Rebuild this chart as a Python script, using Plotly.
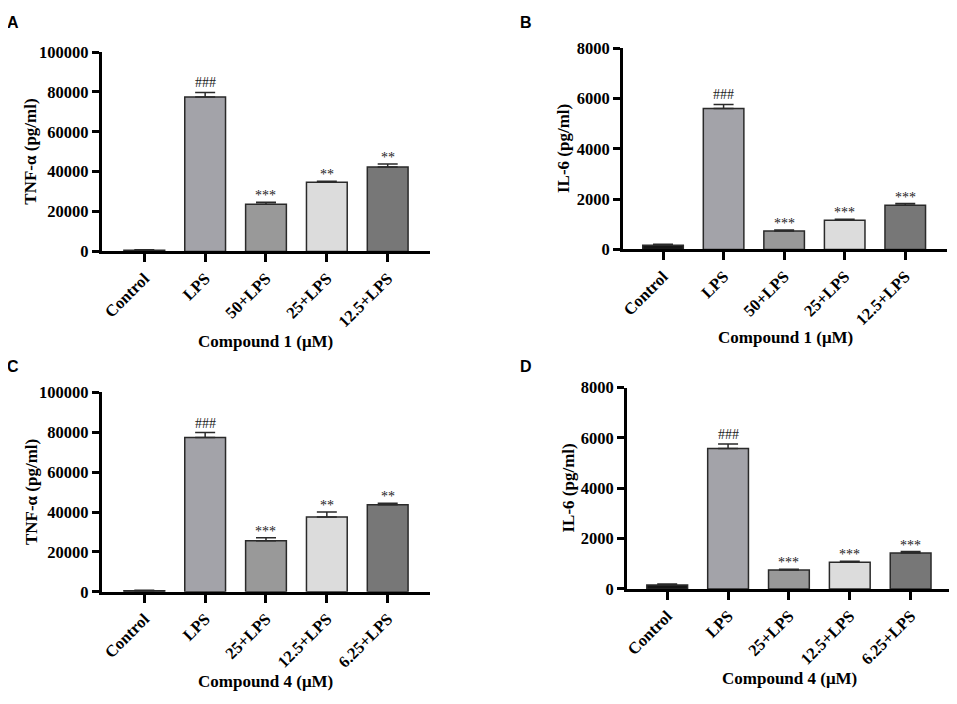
import plotly.graph_objects as go

# page body has an 8px margin: figure is drawn so that it fills the 957x704 view from (8, 8)
OFF = 8
W, H = 957 - OFF, 704 - OFF


def fx(px):
    return (px - OFF) / W


def fy(py):
    return 1 - (py - OFF) / H


# ---- data ----
cats_1 = ["Control", "LPS", "50+LPS", "25+LPS", "12.5+LPS"]
cats_4 = ["Control", "LPS", "25+LPS", "12.5+LPS", "6.25+LPS"]

tnf_c1 = [600, 77400, 23600, 34700, 42400]
tnf_c1_err = [200, 2300, 1100, 500, 1500]
tnf_c1_sig = ["", "###", "***", "**", "**"]

il6_c1 = [165, 5600, 737, 1163, 1757]
il6_c1_err = [40, 165, 38, 40, 65]
il6_c1_sig = ["", "###", "***", "***", "***"]

tnf_c4 = [600, 77400, 25650, 37500, 43700]
tnf_c4_err = [200, 2500, 1450, 2600, 800]
tnf_c4_sig = ["", "###", "***", "**", "**"]

il6_c4 = [155, 5580, 748, 1058, 1432]
il6_c4_err = [40, 180, 39, 39, 52]
il6_c4_sig = ["", "###", "***", "***", "***"]

bar_colors = ["#151515", "#A3A3A9", "#999999", "#DCDCDC", "#777777"]

FONT = "Liberation Serif"

# panel pixel boxes (screen px): (x_left, x_right, y_top, y_bottom)
panels = [
    dict(cats=cats_1, vals=tnf_c1, err=tnf_c1_err, sig=tnf_c1_sig, ymax=100000, dtick=20000,
         ytitle="TNF-α (pg/ml)", xtitle="Compound 1 (μM)", letter="A",
         box=(99, 428, 44, 249), xr=(-0.70, 4.69), ytx=28, xty=342, lx=10, ly=14),
    dict(cats=cats_1, vals=il6_c1, err=il6_c1_err, sig=il6_c1_sig, ymax=8000, dtick=2000,
         ytitle="IL-6 (pg/ml)", xtitle="Compound 1 (μM)", letter="B",
         box=(622, 947, 40, 247), xr=(-0.66, 4.69), ytx=563, xty=338, lx=525, ly=14),
    dict(cats=cats_4, vals=tnf_c4, err=tnf_c4_err, sig=tnf_c4_sig, ymax=100000, dtick=20000,
         ytitle="TNF-α (pg/ml)", xtitle="Compound 4 (μM)", letter="C",
         box=(99, 428, 394, 599), xr=(-0.70, 4.69), ytx=28, xty=691, lx=10, ly=367),
    dict(cats=cats_4, vals=il6_c4, err=il6_c4_err, sig=il6_c4_sig, ymax=8000, dtick=2000,
         ytitle="IL-6 (pg/ml)", xtitle="Compound 4 (μM)", letter="D",
         box=(626, 952, 389, 596), xr=(-0.66, 4.68), ytx=567, xty=688, lx=525, ly=367),
]

fig = go.Figure()
annotations = []
layout_axes = {}

for i, p in enumerate(panels, start=1):
    xa = "x" if i == 1 else f"x{i}"
    ya = "y" if i == 1 else f"y{i}"
    xl, xr_px, yt, yb = p["box"]
    idx = list(range(len(p["cats"])))
    fig.add_trace(go.Bar(
        x=idx, y=p["vals"], xaxis=xa, yaxis=ya,
        width=0.67,
        marker=dict(color=bar_colors, line=dict(color="#2a2a2a", width=1.5)),
        error_y=dict(type="data", symmetric=False, array=p["err"],
                     arrayminus=[0] * len(p["err"]),
                     color="#2a2a2a", thickness=1.5, width=10),
        showlegend=False, hoverinfo="skip",
    ))
    for j, s in enumerate(p["sig"]):
        if s:
            annotations.append(dict(
                x=j, y=p["vals"][j] + p["err"][j], xref=xa, yref=ya,
                text=s, showarrow=False, yanchor="bottom", xanchor="center",
                yshift=(0 if s.startswith("#") else -3),
                font=dict(family=FONT, size=14, color="#222222"),
            ))
    axkey_x = "xaxis" if i == 1 else f"xaxis{i}"
    axkey_y = "yaxis" if i == 1 else f"yaxis{i}"
    layout_axes[axkey_x] = dict(
        domain=[fx(xl), min(1.0, fx(xr_px))], anchor=ya, range=list(p["xr"]),
        tickmode="array", tickvals=idx, ticktext=p["cats"], tickangle=-45,
        showline=True, linecolor="black", linewidth=3,
        ticks="outside", ticklen=8, tickwidth=3, tickcolor="black",
        showgrid=False, zeroline=False, fixedrange=True,
        tickfont=dict(family=FONT, size=16.5, color="black", weight="bold"),
    )
    layout_axes[axkey_y] = dict(
        domain=[fy(yb), fy(yt)], anchor=xa, range=[0, p["ymax"]],
        tickmode="linear", tick0=0, dtick=p["dtick"], tickformat="d",
        showline=True, linecolor="black", linewidth=3,
        ticks="outside", ticklen=7, tickwidth=3, tickcolor="black",
        showgrid=False, zeroline=False, fixedrange=True,
        tickfont=dict(family=FONT, size=16.5, color="black", weight="bold"),
    )
    # axis titles
    annotations.append(dict(
        x=fx(p["ytx"]), y=fy((yt + yb) / 2), xref="paper", yref="paper",
        text=p["ytitle"], textangle=-90, showarrow=False,
        xanchor="center", yanchor="middle",
        font=dict(family=FONT, size=17, color="black", weight="bold"),
    ))
    annotations.append(dict(
        x=fx((xl + xr_px) / 2), y=fy(p["xty"]), xref="paper", yref="paper",
        text=p["xtitle"], showarrow=False, xanchor="center", yanchor="middle",
        font=dict(family=FONT, size=17, color="black", weight="bold"),
    ))
    annotations.append(dict(
        x=fx(p["lx"]), y=fy(p["ly"]), xref="paper", yref="paper",
        text=p["letter"], showarrow=False, xanchor="center", yanchor="middle",
        font=dict(family="Liberation Sans", size=16, color="black", weight="bold"),
    ))

fig.update_layout(
    width=W, height=H, margin=dict(l=0, r=0, t=0, b=0),
    paper_bgcolor="white", plot_bgcolor="white",
    annotations=annotations, bargap=0.33,
    **layout_axes,
)

fig.write_html("out.html", config={"displayModeBar": False})
